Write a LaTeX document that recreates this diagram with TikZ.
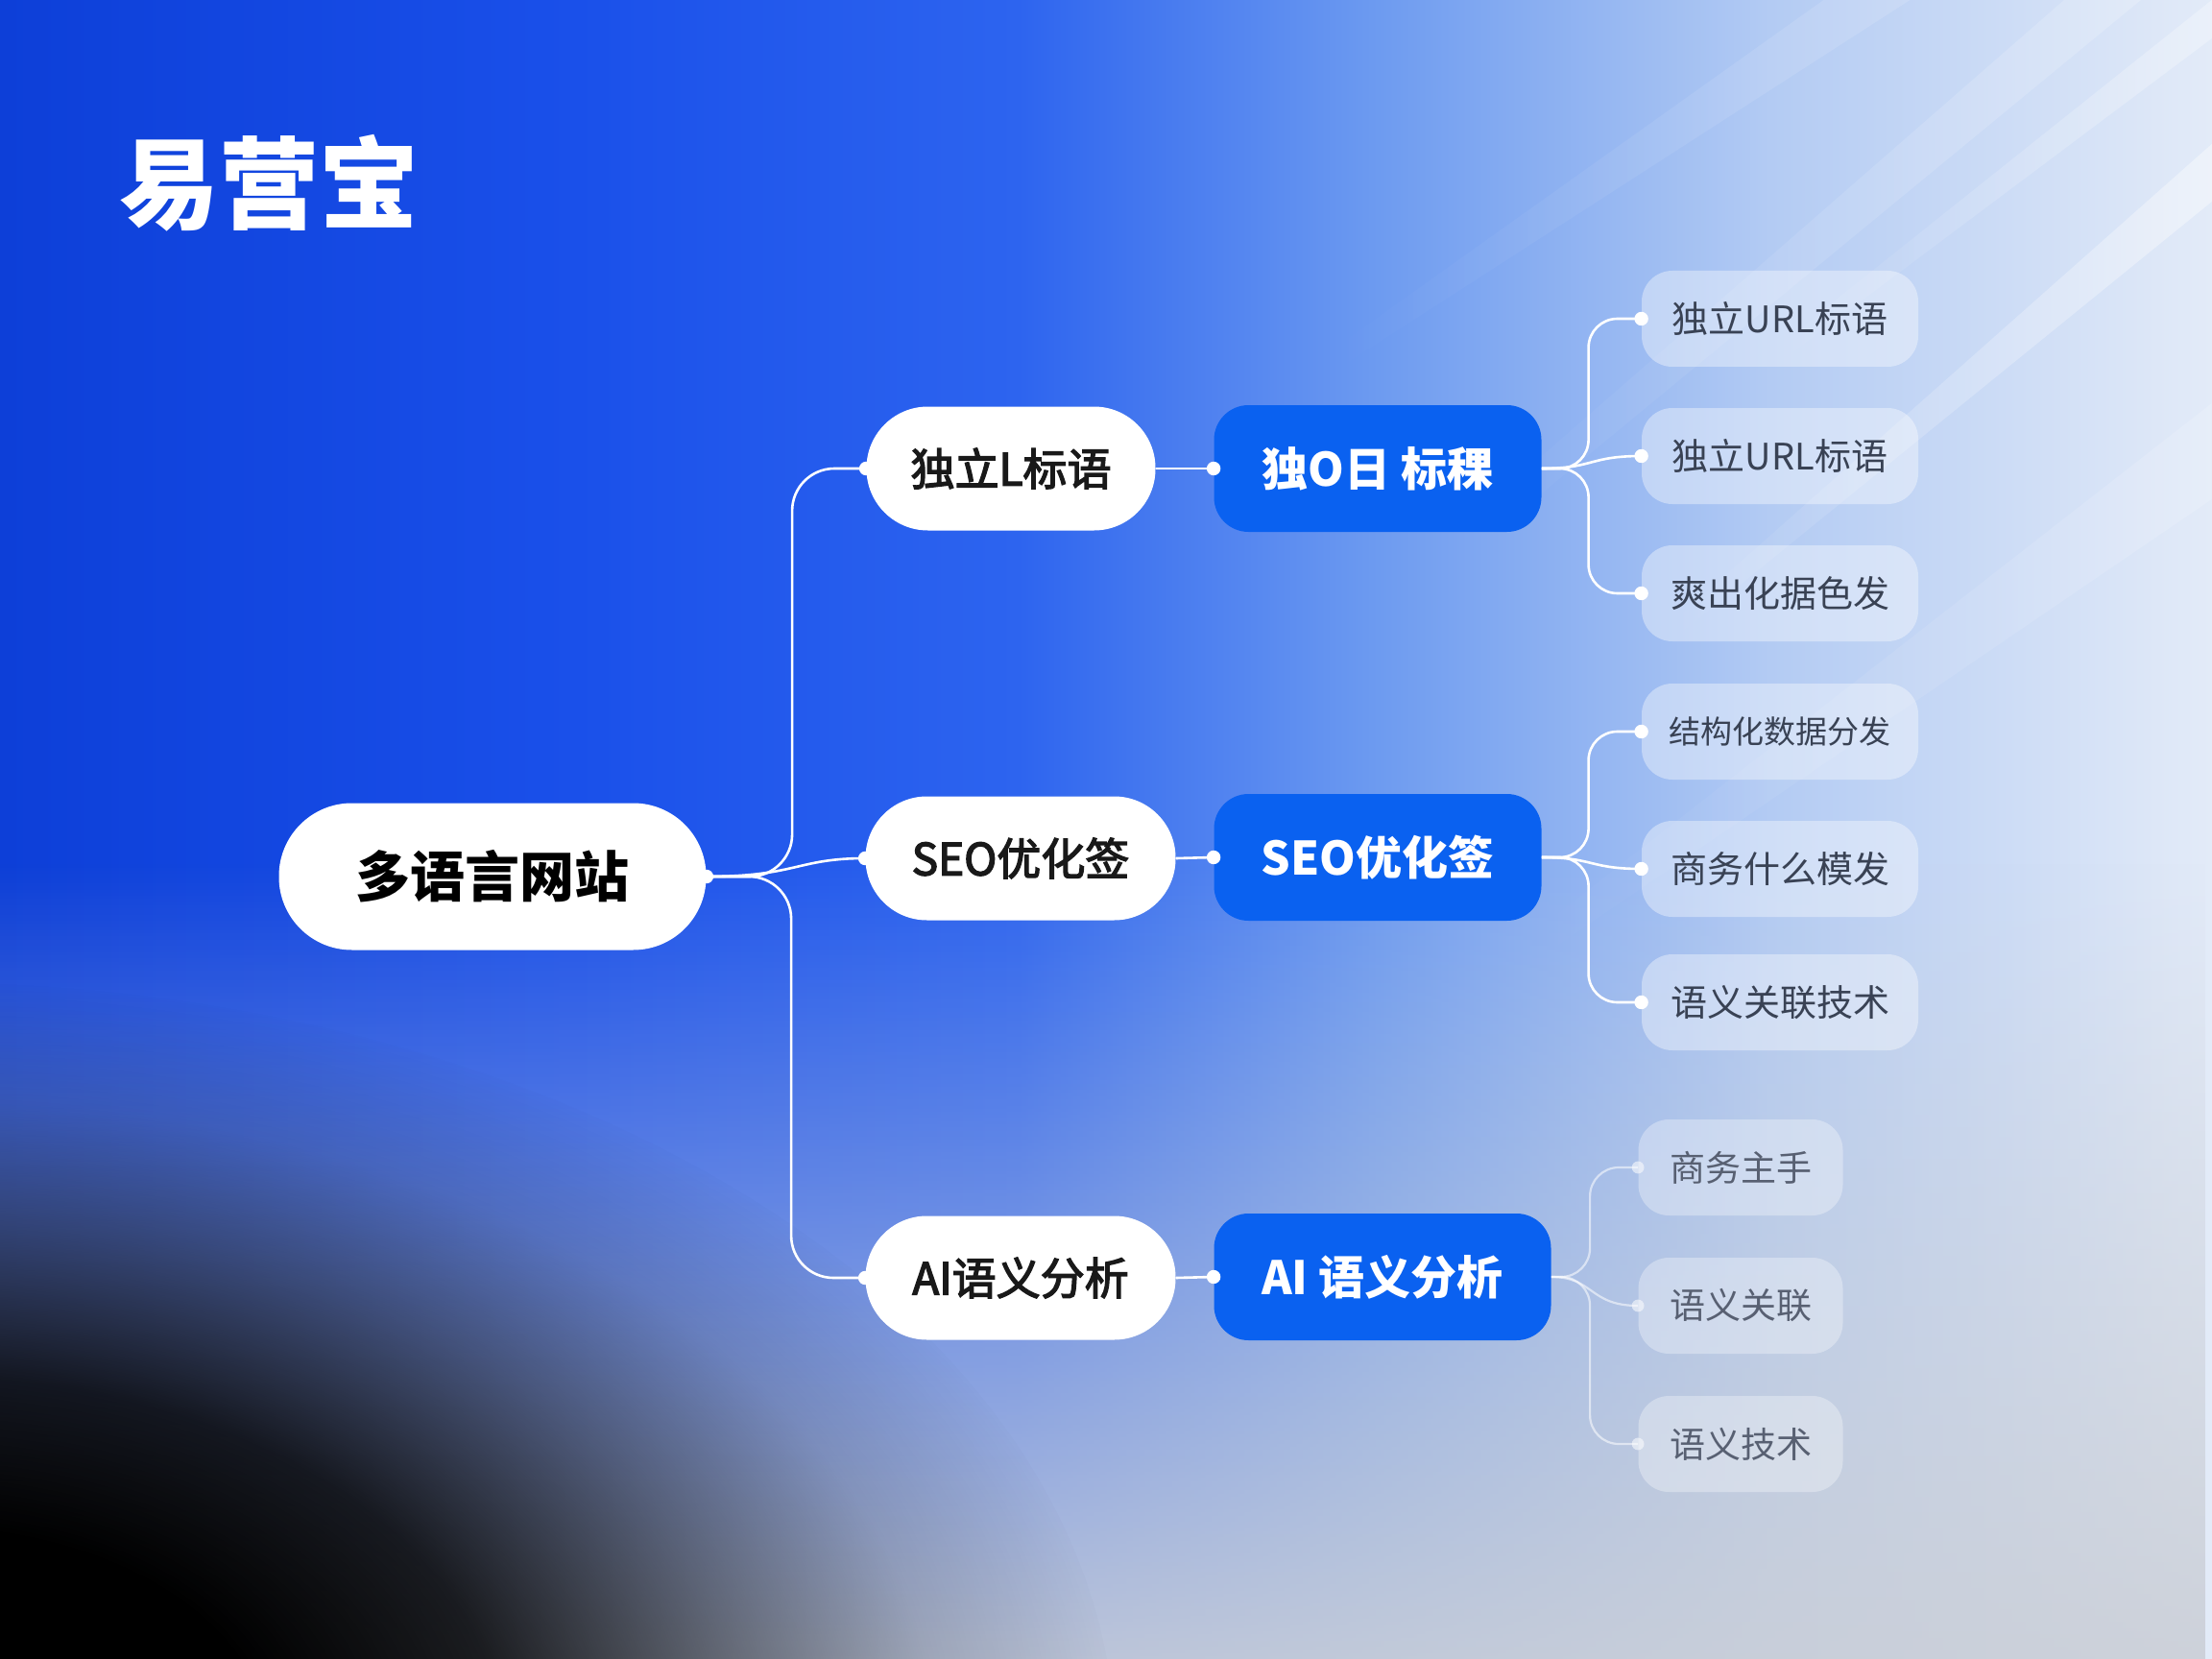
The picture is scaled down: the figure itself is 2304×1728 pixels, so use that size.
\documentclass[tikz,border=0pt]{standalone}
\usepackage{fontspec}
\setmainfont{Noto Sans CJK SC}
\newfontfamily\midfont[FakeBold=3]{Noto Sans CJK SC}
\usetikzlibrary{fadings}
\definecolor{c0}{HTML}{0D3FD8}
\definecolor{c1}{HTML}{1A50EA}
\definecolor{c2}{HTML}{2D64EF}
\definecolor{c3}{HTML}{6C9AF0}
\definecolor{c4}{HTML}{B3CBF3}
\definecolor{c5}{HTML}{E3EBF8}
\definecolor{hazec}{HTML}{CBCFD7}
\definecolor{boxblue}{HTML}{0A61F0}
\definecolor{leaftext}{HTML}{394254}
\definecolor{leaftextb}{HTML}{586072}
\pgfdeclarehorizontalshading{bgshade}{100bp}{color(0bp)=(c0); color(25bp)=(c0); color(38bp)=(c1); color(48bp)=(c2); color(56bp)=(c3); color(65bp)=(c4); color(75bp)=(c5); color(100bp)=(c5)}
\pgfdeclareradialshading{darkrad}{\pgfpointorigin}{color(0bp)=(white); color(7bp)=(white); color(12bp)=(white!85!black); color(17bp)=(white!45!black); color(21bp)=(white!15!black); color(25bp)=(black); color(50bp)=(black)}
\pgfdeclarefading{darkfade}{\pgfuseshading{darkrad}}
\begin{document}
\begin{tikzpicture}[x=0.5pt,y=-0.5pt,
  rootbox/.style={fill=white, rounded corners=38pt, minimum width=222.5pt, minimum height=76.5pt, inner sep=0pt, text=black, font=\bfseries\fontsize{28.5}{34}\selectfont},
  pill/.style={fill=white, rounded corners=32pt, minimum width=161.5pt, minimum height=64.5pt, inner sep=0pt, text=black!90, font=\midfont\fontsize{23}{28}\selectfont},
  bluebox/.style={fill=boxblue, rounded corners=18pt, minimum width=170.5pt, minimum height=66pt, inner sep=0pt, text=white, font=\bfseries\fontsize{24}{29}\selectfont},
  leaf/.style={fill=white, fill opacity=0.38, text opacity=1, rounded corners=16pt, minimum width=144pt, minimum height=50pt, inner sep=0pt, text=leaftext, font=\fontsize{19}{23}\selectfont},
  leafb/.style={leaf, fill opacity=0.32, minimum width=106.5pt, text=leaftextb, font=\fontsize{18.5}{22}\selectfont},
  link/.style={draw=white, line width=1.3pt},
  faintlink/.style={draw=white, line width=1.1pt, draw opacity=0.55},
  dot/.style={fill=white}
]
\useasboundingbox (0,0) rectangle (2304,1728);
\begin{scope}
\clip (0,0) rectangle (2304,1728);
\shade[shading=bgshade] (0,0) rectangle (2304,1728);
\fill[hazec, fill opacity=0.9, path fading=north] (0,900) rectangle (2304,1728);
% light rays
\fill[white, fill opacity=0.4, path fading=west] (2304,150) -- (2304,210) -- (1750,660) -- (1740,650) -- cycle;
\fill[white, fill opacity=0.3, path fading=west] (2304,0) -- (2304,40) -- (1850,380) -- (1840,370) -- cycle;
\fill[white, fill opacity=0.2, path fading=west] (2150,0) -- (2230,0) -- (1550,560) -- (1520,550) -- cycle;
\fill[white, fill opacity=0.16, path fading=west] (2304,420) -- (2304,520) -- (1600,1000) -- (1580,985) -- cycle;
\fill[white, fill opacity=0.14, path fading=west] (1900,0) -- (1990,0) -- (1400,380) -- (1380,370) -- cycle;
\fill[black, path fading=darkfade] (-80,1820) ellipse (1250 and 800);
\end{scope}

\node[anchor=west, text=white, font=\bfseries\fontsize{52}{60}\selectfont, inner sep=0pt] (title) at (124,191) {易营宝};

\node[rootbox] (root) at (513,913) {多语言网站};
\node[pill, minimum width=150.5pt] (l1a) at (1053,488) {独立L标语};
\node[pill] (l1b) at (1063,894) {SEO优化签};
\node[pill] (l1c) at (1063,1331) {AI语义分析};

\node[bluebox] (l2a) at (1435,488) {独O日 标稞};
\node[bluebox] (l2b) at (1435,893) {SEO优化签};
\node[bluebox, minimum width=175.5pt] (l2c) at (1440,1330) {AI 语义分析};

\node[leaf] (la1) at (1854,332) {独立URL标语};
\node[leaf] (la2) at (1854,475) {独立URL标语};
\node[leaf] (la3) at (1854,618) {爽出化据色发};
\node[leaf, font=\fontsize{16.5}{20}\selectfont] (lb1) at (1854,762) {结构化数据分发};
\node[leaf] (lb2) at (1854,905) {商务什么模发};
\node[leaf] (lb3) at (1854,1044) {语义关联技术};
\node[leafb] (lc1) at (1813,1216) {商务主手};
\node[leafb] (lc2) at (1813,1360) {语义关联};
\node[leafb] (lc3) at (1813,1504) {语义技术};

% root to level 1
\draw[link, rounded corners=22pt] (root.east) -| ([xshift=-38.5pt]l1a.west) -- (l1a.west);
\draw[link] (root.east) .. controls (830,913) and (830,894) .. (l1b.west);
\draw[link, rounded corners=22pt] (root.east) -| ([xshift=-38.5pt]l1c.west) -- (l1c.west);

% level 1 to level 2
\draw[link] (l1a.east) -- (l2a.west);
\draw[link] (l1b.east) -- (l2b.west);
\draw[link] (l1c.east) -- (l2c.west);

% level 2 to leaves
\draw[link, rounded corners=15pt] (l2a.east) -| ([xshift=-27.5pt]la1.west) -- (la1.west);
\draw[link] (l2a.east) .. controls (1660,488) and (1655,475) .. (la2.west);
\draw[link, rounded corners=15pt] (l2a.east) -| ([xshift=-27.5pt]la3.west) -- (la3.west);
\draw[link, rounded corners=15pt] (l2b.east) -| ([xshift=-27.5pt]lb1.west) -- (lb1.west);
\draw[link] (l2b.east) .. controls (1660,893) and (1655,905) .. (lb2.west);
\draw[link, rounded corners=15pt] (l2b.east) -| ([xshift=-27.5pt]lb3.west) -- (lb3.west);
\draw[faintlink, rounded corners=15pt] (l2c.east) -| ([xshift=-25pt]lc1.west) -- (lc1.west);
\draw[faintlink] (l2c.east) .. controls (1660,1330) and (1655,1360) .. (lc2.west);
\draw[faintlink, rounded corners=15pt] (l2c.east) -| ([xshift=-25pt]lc3.west) -- (lc3.west);

% dots
\foreach \n in {l1a,l1b,l1c,l2a,l2b,l2c,la1,la2,la3,lb1,lb2,lb3}{
  \fill[dot] (\n.west) circle (3.6pt);
}
\foreach \n in {lc1,lc2,lc3}{
  \fill[dot, fill opacity=0.55] (\n.west) circle (3.2pt);
}
\fill[dot] (root.east) circle (3.6pt);
\end{tikzpicture}
\end{document}
